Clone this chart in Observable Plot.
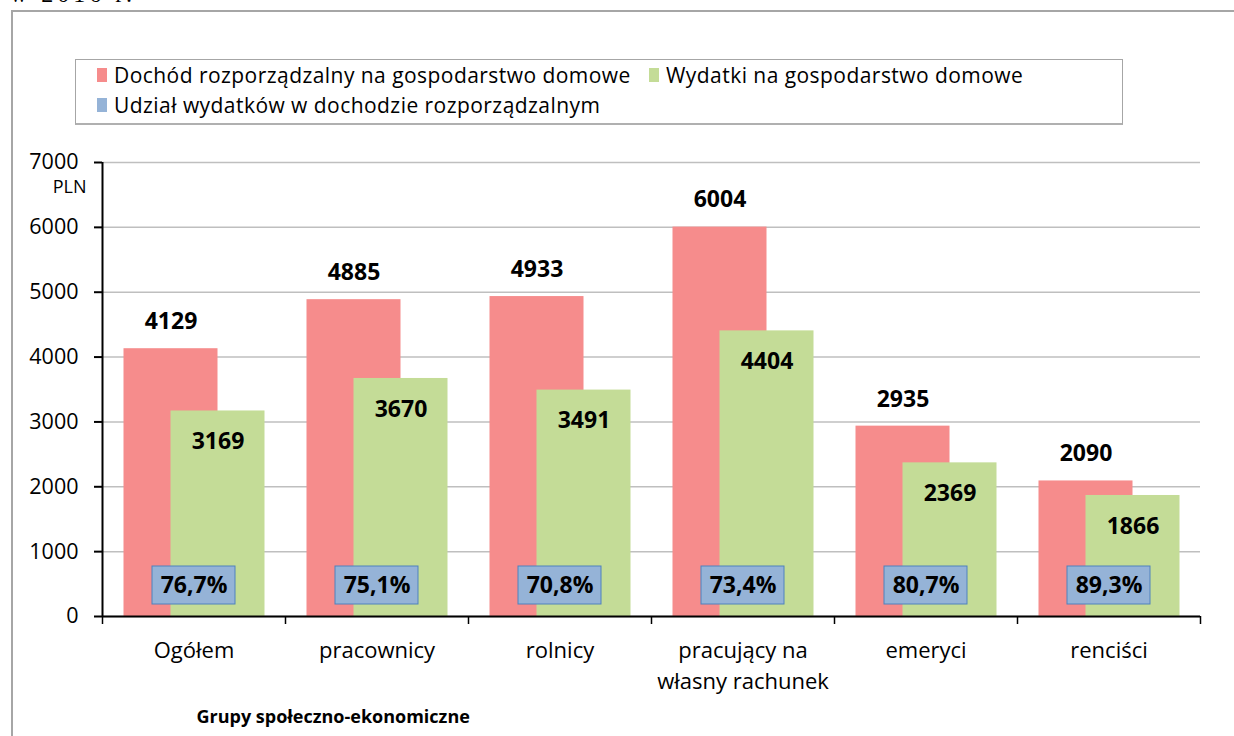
<!DOCTYPE html>
<html><head><meta charset="utf-8">
<script src="https://cdn.jsdelivr.net/npm/d3@7"></script>
<script src="https://cdn.jsdelivr.net/npm/@observablehq/plot@0.6"></script>
<style>
body{margin:0;background:#fff;}
#wrap{position:relative;width:1234px;height:736px;overflow:hidden;font-family:"Open Sans",sans-serif;color:#000;}
#cut{position:absolute;left:10px;top:-19px;font-family:"Liberation Serif",serif;font-size:24px;letter-spacing:4px;white-space:nowrap;}
#frame{position:absolute;left:11px;top:10px;width:1240px;height:740px;border:2px solid #a6a6a6;}
#legend{position:absolute;left:75px;top:59px;width:1046px;height:63px;border:1px solid #a6a6a6;border-bottom:2px solid #b0b0b0;background:#fff;}
.item{position:absolute;height:24px;display:flex;align-items:center;white-space:nowrap;font-size:21px;letter-spacing:0.45px;}
.sw{display:inline-block;width:10px;height:14px;margin-right:7px;}
#chart{position:absolute;left:0;top:140px;}
</style></head><body>
<div id="wrap">
  <div id="cut">w 2016 r.</div>
  <div id="frame"></div>
  <div id="legend"></div>
  <div id="chart"></div>
</div>
<script>
const categories = ["Ogółem", "pracownicy", "rolnicy", "pracujący na\nwłasny rachunek", "emeryci", "renciści"];
const income = [4129, 4885, 4933, 6004, 2935, 2090];
const expenses = [3169, 3670, 3491, 4404, 2369, 1866];
const shares = ["76,7%", "75,1%", "70,8%", "73,4%", "80,7%", "89,3%"];
const seriesNames = ["Dochód rozporządzalny na gospodarstwo domowe", "Wydatki na gospodarstwo domowe", "Udział wydatków w dochodzie rozporządzalnym"];
const seriesColors = ["#f68c8c", "#c4dc97", "#95b3d7"];
const yTicks = [0, 1000, 2000, 3000, 4000, 5000, 6000, 7000];
const yUnit = "PLN";
const xTitle = "Grupy społeczno-ekonomiczne";

const data = categories.map((c, i) => ({cat: c, income: income[i], exp: expenses[i], share: shares[i]}));

// legend
const legendPos = [{left: 21, top: 3}, {left: 573, top: 3}, {left: 21, top: 33}];
const legend = document.getElementById("legend");
seriesNames.forEach((name, i) => {
  const it = document.createElement("div");
  it.className = "item";
  it.style.left = legendPos[i].left + "px";
  it.style.top = legendPos[i].top + "px";
  const sw = document.createElement("span");
  sw.className = "sw";
  sw.style.background = seriesColors[i];
  it.appendChild(sw);
  it.appendChild(document.createTextNode(name));
  legend.appendChild(it);
});

const half = (1234 - 102 - 34) / categories.length / 2;
const font = "'Open Sans', sans-serif";

const chart = Plot.plot({
  width: 1234,
  height: 596,
  marginLeft: 102,
  marginRight: 34,
  marginTop: 22,
  marginBottom: 120,
  style: {fontFamily: font, fontSize: "20px", color: "#000", background: "transparent"},
  x: {domain: categories, padding: 0, label: null},
  y: {domain: [0, 7000], label: null},
  marks: [
    Plot.gridY(yTicks, {stroke: "#bfbfbf", strokeOpacity: 1, strokeWidth: 1.5}),
    Plot.barY(data, {x: "cat", y: "income", fill: seriesColors[0], insetLeft: 21.5, insetRight: 67.5}),
    Plot.barY(data, {x: "cat", y: "exp", fill: seriesColors[1], insetLeft: 68.5, insetRight: 20.5}),
    Plot.text(data, {x: "cat", y: "income", text: d => String(d.income), dx: -23, dy: -27, fontWeight: "bold", fontSize: 23}),
    Plot.text(data, {x: "cat", y: "exp", text: d => String(d.exp), dx: 24, dy: 31, fontWeight: "bold", fontSize: 23}),
    Plot.barY(data, {x: "cat", y1: 0, y2: 0, insetLeft: 50, insetRight: 50, insetTop: -50, insetBottom: 12, fill: seriesColors[2], stroke: "#4f81bd", strokeWidth: 1}),
    Plot.text(data, {x: "cat", y: 0, text: "share", dy: -31, fontWeight: "bold", fontSize: 23}),
    Plot.axisY(yTicks, {tickSize: 8, tickPadding: 16, tickFormat: d => String(d), fontSize: 21.5, strokeWidth: 2, label: null}),
    Plot.axisX({tickSize: 0, tickPadding: 20, fontSize: 22, lineHeight: 1.4, label: null, style: "letter-spacing:0.3px"}),
    Plot.ruleY([0], {stroke: "#000", strokeWidth: 2}),
    Plot.ruleX(categories.slice(0, 1), {dx: -half, stroke: "#000", strokeWidth: 2}),
    Plot.ruleX(categories, {dx: -half, y1: 0, y2: 0, insetBottom: -8, stroke: "#000", strokeWidth: 1.5}),
    Plot.ruleX(categories.slice(-1), {dx: half, y1: 0, y2: 0, insetBottom: -8, stroke: "#000", strokeWidth: 1.5}),
    Plot.text([yUnit], {frameAnchor: "top-left", dx: -16, dy: 18, textAnchor: "end", fontSize: 18}),
    Plot.text([xTitle], {frameAnchor: "bottom-left", dx: 94, dy: 106, textAnchor: "start", fontWeight: "bold", fontSize: 18})
  ]
});
document.getElementById("chart").appendChild(chart);
</script>
</body></html>
